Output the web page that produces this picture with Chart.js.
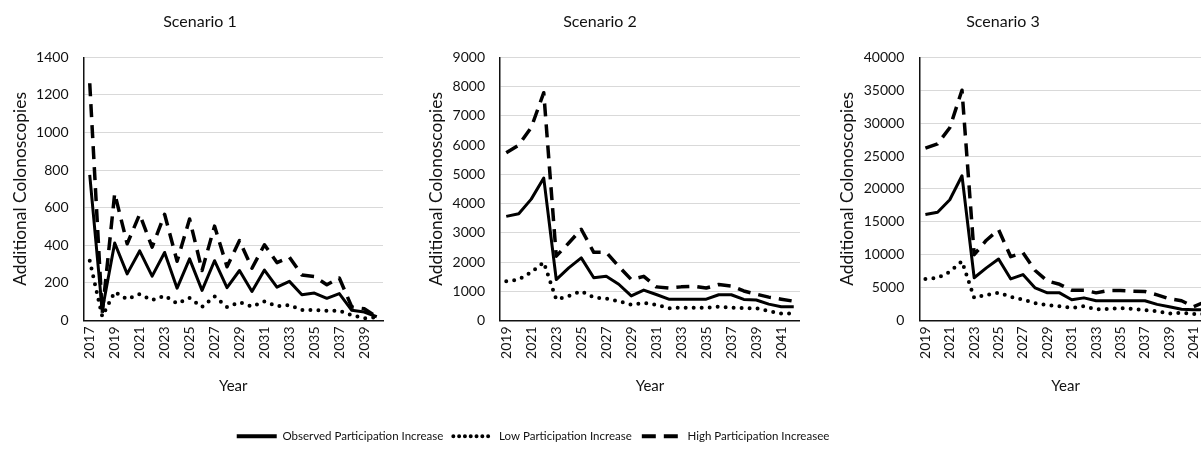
<!DOCTYPE html>
<html>
<head>
<meta charset="utf-8">
<script src="https://cdn.jsdelivr.net/npm/chart.js@4.4.1/dist/chart.umd.min.js"></script>
<style>
  html, body { margin: 0; padding: 0; overflow: hidden; background: #fff; width: 1201px; height: 454px; }
  #wrap { position: relative; width: 1201px; height: 454px; overflow: hidden; }
  canvas { position: absolute; }
</style>
</head>
<body>
<div id="wrap">
  <canvas id="c1" width="400" height="400" style="left:0;top:0"></canvas>
  <canvas id="c2" width="400" height="400" style="left:400px;top:0"></canvas>
  <canvas id="c3" width="412" height="400" style="left:800px;top:0"></canvas>
  <canvas id="lg" width="1066" height="90" style="left:0;top:364px"></canvas>
</div>
<script>
// Series names shared by all three scenarios
const seriesNames = ['Observed Participation Increase', 'Low Participation Increase', 'High Participation Increasee'];

// Scenario 1: years 2017-2040
const years1 = ['2017','2018','2019','2020','2021','2022','2023','2024','2025','2026','2027','2028',
                '2029','2030','2031','2032','2033','2034','2035','2036','2037','2038','2039','2040'];
const observed1 = [775, 55, 412, 248, 370, 236, 362, 172, 328, 160, 318, 175, 266, 154, 268, 177, 208, 137, 146, 118, 143, 54, 45, 20];
const low1      = [318, 22, 152, 113, 140, 108, 132, 90, 120, 72, 128, 72, 97, 74, 102, 76, 82, 56, 56, 52, 52, 28, 12, 18];
const high1     = [1262, 38, 676, 408, 565, 390, 565, 315, 540, 266, 502, 286, 425, 278, 403, 308, 337, 242, 234, 190, 226, 72, 62, 20];

// Scenario 2: years 2019-2042
const years2 = ['2019','2020','2021','2022','2023','2024','2025','2026','2027','2028','2029','2030',
                '2031','2032','2033','2034','2035','2036','2037','2038','2039','2040','2041','2042'];
const observed2 = [3560, 3650, 4150, 4870, 1400, 1800, 2140, 1460, 1510, 1240, 840, 1040, 890, 730, 730, 730, 730, 880, 880, 720, 700, 560, 470, 470];
const low2      = [1340, 1400, 1650, 1990, 720, 840, 1000, 790, 750, 660, 540, 600, 540, 420, 440, 440, 440, 470, 440, 420, 420, 320, 240, 240];
const high2     = [5740, 6000, 6600, 7790, 2200, 2650, 3120, 2330, 2330, 1850, 1400, 1510, 1150, 1110, 1150, 1170, 1110, 1230, 1180, 1010, 900, 800, 730, 660];

// Scenario 3: years 2019-2042
const years3 = years2;
const observed3 = [16100, 16450, 18350, 22000, 6500, 8000, 9350, 6320, 6980, 4950, 4200, 4200, 3150, 3440, 3000, 3000, 3000, 3000, 3000, 2450, 2100, 1700, 1650, 1650];
const low3      = [6320, 6450, 7400, 9000, 3440, 3900, 4200, 3600, 3180, 2650, 2330, 2170, 1900, 2170, 1670, 1770, 1870, 1770, 1570, 1420, 1060, 1160, 1000, 1000];
const high3     = [26200, 26850, 29300, 35000, 10000, 12200, 13800, 9700, 10300, 7600, 6000, 5500, 4600, 4600, 4200, 4550, 4550, 4450, 4400, 3900, 3300, 3000, 2100, 2900];

// Y-axis ranges
const yMax  = [1400, 9000, 40000];
const yStep = [200, 1000, 5000];

const FONT = 'Lato, "Open Sans", sans-serif';
const INK = '#111';

// Line styles for the three series
const lineStyles = [
  { borderWidth: 3,   borderDash: [],      borderCapStyle: 'butt'  },
  { borderWidth: 4,   borderDash: [0, 8],  borderCapStyle: 'round' },
  { borderWidth: 3.5, borderDash: [13, 8], borderCapStyle: 'butt'  }
];

function datasets(values) {
  return values.map((v, i) => Object.assign({
    label: seriesNames[i],
    data: v,
    borderColor: '#000',
    backgroundColor: '#000',
    pointRadius: 0,
    tension: 0,
    fill: false,
    borderJoinStyle: 'round'
  }, lineStyles[i]));
}

function panel(el, p) {
  return new Chart(document.getElementById(el), {
    type: 'line',
    data: { labels: p.years, datasets: datasets(p.series) },
    options: {
      responsive: false,
      devicePixelRatio: 1,
      animation: false,
      layout: { padding: { left: p.padLeft, right: p.padRight, top: 0, bottom: 0 } },
      plugins: {
        legend: { display: false },
        tooltip: { enabled: false },
        title: {
          display: true, text: p.title, color: INK,
          font: { family: FONT, size: 16, weight: 'normal' },
          padding: { top: 12.4, bottom: 25.7 }
        }
      },
      scales: {
        x: {
          type: 'category',
          offset: true,
          grid: { display: false, drawTicks: false },
          border: { display: true, color: INK, width: 1.5 },
          ticks: {
            autoSkip: false, minRotation: 90, maxRotation: 90, padding: 6,
            color: INK, font: { family: FONT, size: 14 },
            callback(v, i) { return i % 2 === 0 ? this.getLabelForValue(v) : ''; }
          },
          title: {
            display: true, text: 'Year', color: INK,
            font: { family: FONT, size: 15 },
            padding: { top: 0, bottom: 5 }
          },
          afterFit(s) { s.height = 79.5; s.paddingLeft = 0; s.paddingRight = 0; }
        },
        y: {
          min: 0, max: p.max,
          grid: { color: '#d9d9d9', lineWidth: 1, drawTicks: false },
          border: { display: true, color: INK, width: 1.5 },
          ticks: {
            stepSize: p.step, padding: 15, color: INK, font: { family: FONT, size: 14 },
            callback: v => String(v)
          },
          title: {
            display: true, text: 'Additional Colonoscopies', color: INK,
            font: { family: FONT, size: 17.4 },
            padding: { top: p.titlePad, bottom: 0 }
          },
          afterFit(s) { s.width = p.yWidth; s.paddingTop = 0; s.paddingBottom = 0; }
        }
      }
    }
  });
}

panel('c1', { title: 'Scenario 1', years: years1, series: [observed1, low1, high1],
              max: yMax[0], step: yStep[0], padLeft: 17, yWidth: 66.5, padRight: 17, titlePad: -7.4 });
panel('c2', { title: 'Scenario 2', years: years2, series: [observed2, low2, high2],
              max: yMax[1], step: yStep[1], padLeft: 0, yWidth: 100, padRight: 0, titlePad: 25.6 });
panel('c3', { title: 'Scenario 3', years: years3, series: [observed3, low3, high3],
              max: yMax[2], step: yStep[2], padLeft: -6, yWidth: 125.3, padRight: 0, titlePad: 42.6 });

// Shared legend below the three panels
const legendDash = [[], [0, 5.8], [14, 8]];
const legendCap = ['butt', 'round', 'butt'];
const legendWidth = [4, 4, 4];
new Chart(document.getElementById('lg'), {
  type: 'line',
  data: { labels: [], datasets: datasets([[], [], []]) },
  options: {
    responsive: false,
    devicePixelRatio: 1,
    animation: false,
    layout: { padding: { top: 0, bottom: 2 } },
    scales: { x: { display: false }, y: { display: false } },
    plugins: {
      tooltip: { enabled: false },
      legend: {
        display: true, position: 'bottom', align: 'center',
        labels: {
          usePointStyle: true, pointStyle: 'line', pointStyleWidth: 40,
          boxWidth: 40, boxHeight: 11.5, padding: 10,
          color: INK, font: { family: FONT, size: 11.5 },
          generateLabels(chart) {
            return chart.data.datasets.map((ds, i) => ({
              text: ds.label, datasetIndex: i, hidden: false,
              fillStyle: '#000', strokeStyle: '#000', fontColor: INK,
              lineWidth: legendWidth[i], lineDash: legendDash[i], lineCap: legendCap[i],
              pointStyle: 'line'
            }));
          }
        }
      }
    }
  }
});
</script>
</body>
</html>
